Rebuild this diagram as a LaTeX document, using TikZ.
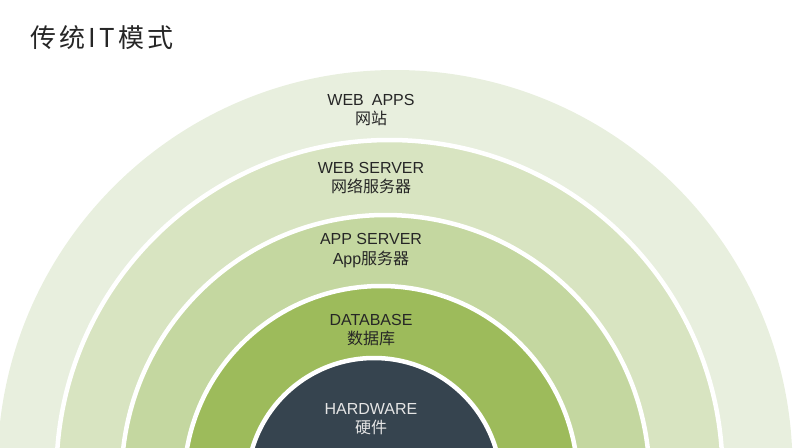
\documentclass[tikz,border=0pt]{standalone}
\usepackage{fontspec}
\setmainfont{Liberation Sans}
\newfontfamily\cjk{Noto Sans CJK SC}
\newfontfamily\cjktitle[LetterSpace=12]{Noto Sans CJK SC}
\definecolor{ringA}{HTML}{E8EFDE}
\definecolor{ringB}{HTML}{D8E4C1}
\definecolor{ringC}{HTML}{C4D7A0}
\definecolor{ringD}{HTML}{9DBB5B}
\definecolor{core}{HTML}{36444F}
\tikzset{font=\fontsize{16}{18.5}\selectfont}
\tikzset{ring/.style={draw=white,line width=4.5pt}}
\tikzset{ringtext/.style={align=center,text=black!85}}

\begin{document}
\begin{tikzpicture}[x=1pt,y=-1pt]
  \useasboundingbox (0,0) rectangle (800,447);
  \clip (0,0) rectangle (800,447);
  % rings, outside in
  \fill[ringA] (395,467.5) circle[radius=397.5pt];
  \filldraw[ring,fill=ringB] (389.5,473) circle[radius=333pt];
  \filldraw[ring,fill=ringC] (385.5,479) circle[radius=264pt];
  \filldraw[ring,fill=ringD] (381,483) circle[radius=197pt];
  \filldraw[ring,fill=core] (374,485) circle[radius=127pt];

  \node[anchor=west,font=\fontsize{26}{28}\selectfont,text=black!85] (title) at (27,38) {\cjktitle 传统IT模式};

  \node[ringtext] (webapps) at (371,110) {WEB\enspace APPS\\{\cjk 网站}};
  \node[ringtext] (webserver) at (371,178) {WEB SERVER\\{\cjk 网络服务器}};
  \node[ringtext] (appserver) at (371,251) {APP SERVER\\[1.5pt]App{\cjk 服务器}};
  \node[ringtext] (database) at (371,330) {DATABASE\\{\cjk 数据库}};
  \node[ringtext,text=white!90!black] (hardware) at (371,419) {HARDWARE\\{\cjk 硬件}};
\end{tikzpicture}
\end{document}
